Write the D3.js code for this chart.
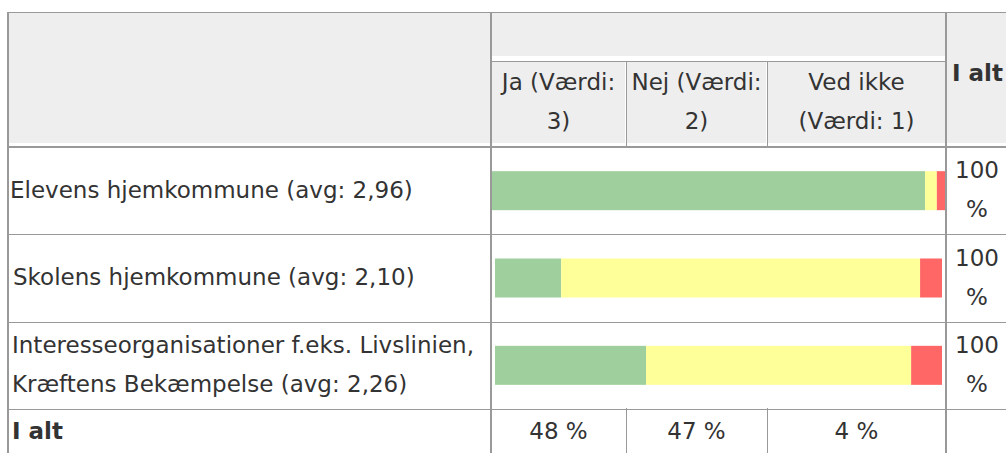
<!DOCTYPE html>
<html>
<head>
<meta charset="utf-8">
<script src="https://cdn.jsdelivr.net/npm/d3@7"></script>
<style>
  html, body { margin: 0; padding: 0; background: #fff; overflow: hidden; }
  svg text { font-family: Verdana, "DejaVu Sans", sans-serif; fill: #333; }
</style>
</head>
<body>
<svg id="chart" width="1006" height="453"></svg>
<script>
// ---- data ----
const categories = [
  "Elevens hjemkommune (avg: 2,96)",
  "Skolens hjemkommune (avg: 2,10)",
  "Interesseorganisationer f.eks. Livslinien, Kræftens Bekæmpelse (avg: 2,26)"
];
const categoryLines = [
  ["Elevens hjemkommune (avg: 2,96)"],
  ["Skolens hjemkommune (avg: 2,10)"],
  ["Interesseorganisationer f.eks. Livslinien,", "Kræftens Bekæmpelse (avg: 2,26)"]
];
const seriesNames = ["Ja (Værdi: 3)", "Nej (Værdi: 2)", "Ved ikke (Værdi: 1)"];
const seriesHeaderLines = [["Ja (Værdi:", "3)"], ["Nej (Værdi:", "2)"], ["Ved ikke", "(Værdi: 1)"]];
const ja = [95.6, 14.8, 33.8];
const nej = [2.6, 80.3, 59.3];
const vedIkke = [1.8, 4.9, 6.9];
const rowTotals = ["100 %", "100 %", "100 %"];
const colTotals = ["48 %", "47 %", "4 %"];
const totalLabel = "I alt";
const colors = ["#9fcf9d", "#ffff99", "#ff6666"];

// ---- layout ----
const svg = d3.select("#chart");
const FS = 23, LH = 39;
const xLeft = 8, xBar0 = 491, xBar1 = 946, xRight = 1008;
const subCols = [491, 626, 767, 946];
const yTop = 12, ySub = 61, yHead = 147, yRows1 = 409, yEnd = 460;
const rowPad = [[1, 1], [4, 4], [4, 4]];
const labelX = [10, 13, 12];

const yBand = d3.scaleBand().domain(categories).range([yHead, yRows1]).paddingInner(0);
const barH = 39;

const g = svg.append("g");

// header backgrounds
const hdrBg = "#eeeeee";
g.append("rect").attr("x", xLeft + 1).attr("y", yTop + 1).attr("width", xBar0 - xLeft - 2).attr("height", yHead - yTop - 5).attr("fill", hdrBg);
g.append("rect").attr("x", xBar0 + 1).attr("y", yTop + 1).attr("width", xBar1 - xBar0 - 2).attr("height", ySub - yTop - 6).attr("fill", hdrBg);
for (let i = 0; i < 3; i++) {
  g.append("rect").attr("x", subCols[i] + 1).attr("y", ySub + 1).attr("width", subCols[i + 1] - subCols[i] - 2).attr("height", yHead - ySub - 5).attr("fill", hdrBg);
}
g.append("rect").attr("x", xBar1 + 1).attr("y", yTop + 1).attr("width", xRight - xBar1).attr("height", yHead - yTop - 5).attr("fill", hdrBg);

// bars
categories.forEach((c, i) => {
  const x = d3.scaleLinear().domain([0, 100]).range([xBar0 + rowPad[i][0], xBar1 - rowPad[i][1]]);
  const vals = [ja[i], nej[i], vedIkke[i]];
  const stack = d3.cumsum(vals);
  const yc = yBand(c) + yBand.bandwidth() / 2;
  g.selectAll(null).data(vals).enter().append("rect")
    .attr("x", (d, k) => x(stack[k] - d))
    .attr("width", (d, k) => x(stack[k]) - x(stack[k] - d))
    .attr("y", yc - barH / 2)
    .attr("height", barH)
    .attr("fill", (d, k) => colors[k]);
});

// lines
const line = (x1, y1, x2, y2, w) => g.append("line").attr("x1", x1).attr("y1", y1).attr("x2", x2).attr("y2", y2)
  .attr("stroke", "#999").attr("stroke-width", w || 1).attr("shape-rendering", "crispEdges");
line(xLeft, yTop + 0.5, xRight + 10, yTop + 0.5, 1);
line(xBar0, ySub + 0.5, xBar1, ySub + 0.5, 1);
line(xLeft, yHead, xRight + 10, yHead, 2);
categories.forEach((c, i) => {
  if (i > 0) line(xLeft, Math.round(yBand(c)) + 0.5, xRight + 10, Math.round(yBand(c)) + 0.5, 1);
});
line(xLeft, yRows1 + 0.5, xRight + 10, yRows1 + 0.5, 1);
[xLeft, xBar0, xBar1].forEach(xv => line(xv, yTop, xv, yEnd, 2));
[subCols[1], subCols[2]].forEach(xv => {
  line(xv + 0.5, ySub, xv + 0.5, yHead, 1);
  line(xv + 0.5, yRows1 - 1, xv + 0.5, yEnd, 1);
});

// text helper
function multiline(lines, x, yc, anchor, bold) {
  const t = g.append("text").attr("x", x).attr("text-anchor", anchor).style("font-size", FS + "px");
  if (bold) t.style("font-weight", "bold");
  const y0 = yc - (lines.length - 1) * LH / 2;
  lines.forEach((s, k) => t.append("tspan").attr("x", x).attr("y", y0 + k * LH).attr("dy", "0.36em").text(s));
  return t;
}

// headers
seriesHeaderLines.forEach((lines, i) => {
  multiline(lines, (subCols[i] + subCols[i + 1]) / 2, 101.5, "middle");
});
multiline([totalLabel], 952, 73, "start", true);

// row labels and totals
categories.forEach((c, i) => {
  const yc = yBand(c) + yBand.bandwidth() / 2;
  multiline(categoryLines[i], labelX[i], yc - 1, "start");
  multiline(rowTotals[i].split(" "), (xBar1 + xRight) / 2, yc - 1, "middle");
});

// totals row
multiline([totalLabel], 12, 431, "start", true);
colTotals.forEach((s, i) => multiline([s], (subCols[i] + subCols[i + 1]) / 2, 431, "middle"));
</script>
</body>
</html>
